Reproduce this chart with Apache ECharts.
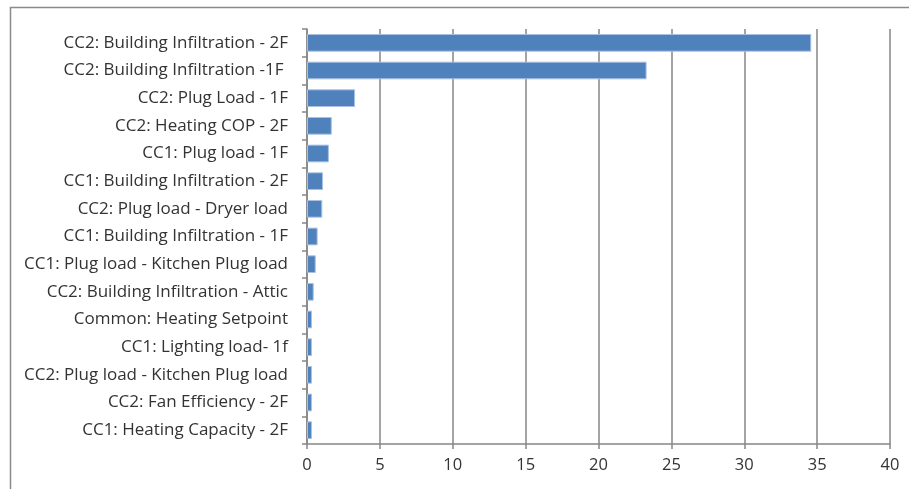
<!DOCTYPE html>
<html>
<head>
<meta charset="utf-8">
<script src="https://cdn.jsdelivr.net/npm/echarts@6/dist/echarts.min.js"></script>
<style>
  html, body { margin: 0; padding: 0; background: #fff; }
  #chart { width: 909px; height: 489px; }
</style>
</head>
<body>
<div id="chart"></div>
<script>
// Sensitivity ranking of model parameters, largest first
const categories = [
  'CC2: Building Infiltration - 2F',
  'CC2: Building Infiltration -1F ',
  'CC2: Plug Load - 1F',
  'CC2: Heating COP - 2F',
  'CC1: Plug load - 1F',
  'CC1: Building Infiltration - 2F',
  'CC2: Plug load - Dryer load',
  'CC1: Building Infiltration - 1F',
  'CC1: Plug load - Kitchen Plug load',
  'CC2: Building Infiltration - Attic',
  'Common: Heating Setpoint',
  'CC1: Lighting load- 1f',
  'CC2: Plug load - Kitchen Plug load',
  'CC2: Fan Efficiency - 2F',
  'CC1: Heating Capacity - 2F'
];
const values = [34.6, 23.3, 3.3, 1.7, 1.5, 1.1, 1.05, 0.73, 0.6, 0.46, 0.34, 0.34, 0.34, 0.34, 0.34];
const xTicks = { min: 0, max: 40, interval: 5 };

const chart = echarts.init(document.getElementById('chart'), null, { renderer: 'canvas' });
const fontFamily = '"Open Sans", "Noto Sans", sans-serif';
const axisGray = '#868686';

chart.setOption({
  animation: false,
  backgroundColor: '#fff',
  graphic: [{
    type: 'rect',
    shape: { x: 10.5, y: 7.5, width: 1000, height: 1000 },
    style: { fill: 'none', stroke: '#8a8a8a', lineWidth: 1.5 },
    silent: true
  }],
  grid: { left: 307, right: 19, top: 29, bottom: 45, containLabel: false },
  xAxis: {
    type: 'value',
    min: xTicks.min,
    max: xTicks.max,
    interval: xTicks.interval,
    axisLine: { show: true, lineStyle: { color: axisGray, width: 1.5 } },
    axisTick: { show: true, length: 5, lineStyle: { color: axisGray, width: 1.5 } },
    splitLine: { show: true, lineStyle: { color: axisGray, width: 1.5 } },
    axisLabel: { color: '#333', fontSize: 16.5, fontFamily, margin: 13 }
  },
  yAxis: {
    type: 'category',
    data: categories,
    inverse: true,
    axisLine: { show: true, lineStyle: { color: axisGray, width: 1.5 } },
    axisTick: { show: true, length: 5, alignWithLabel: false, lineStyle: { color: axisGray, width: 1.5 } },
    axisLabel: { color: '#333', fontSize: 17, fontFamily, margin: 19 },
    splitLine: { show: false }
  },
  series: [{
    type: 'bar',
    data: values,
    barWidth: '64%',
    itemStyle: { color: '#4F81BD', borderColor: '#a9c1e2', borderWidth: 1 }
  }]
});
</script>
</body>
</html>
